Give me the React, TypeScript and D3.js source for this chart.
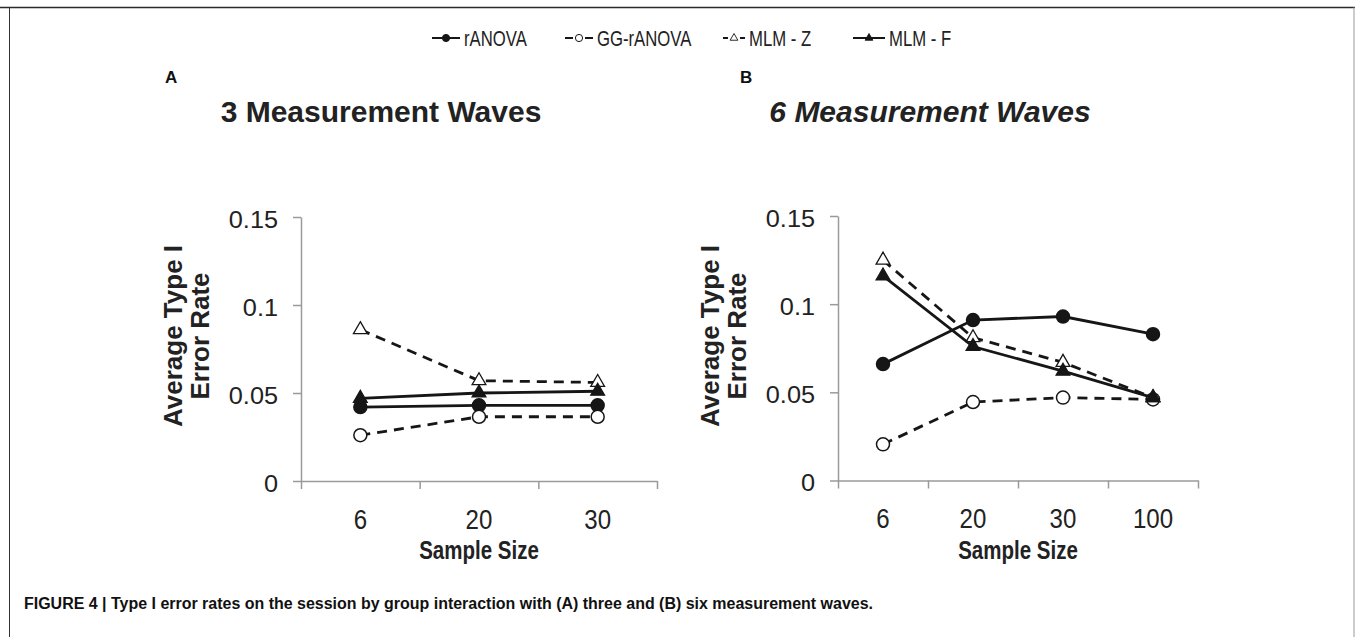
import React from "react";
import * as d3 from "d3";

// sample sizes (x categories)
const sampleSizesA = ["6", "20", "30"];
const sampleSizesB = ["6", "20", "30", "100"];

const seriesNames = ["rANOVA", "GG-rANOVA", "MLM - Z", "MLM - F"];

// panel A: 3 measurement waves
const rANOVA_A = [0.042, 0.043, 0.043];
const ggANOVA_A = [0.026, 0.0365, 0.0365];
const mlmZ_A = [0.086, 0.057, 0.056];
const mlmF_A = [0.047, 0.05, 0.051];

// panel B: 6 measurement waves
const rANOVA_B = [0.066, 0.091, 0.093, 0.083];
const ggANOVA_B = [0.0205, 0.0445, 0.047, 0.046];
const mlmZ_B = [0.125, 0.081, 0.067, 0.047];
const mlmF_B = [0.116, 0.076, 0.062, 0.047];

const yTicks = [0, 0.05, 0.1, 0.15];

const W = 1355;
const H = 637;
const INK = "#161616";
const AXIS = "#9a9a9a";
const SANS = "'Liberation Sans', Arial, Helvetica, sans-serif";

type Style = { dashed: boolean; marker: "circle" | "triangle"; filled: boolean };
const styles: Style[] = [
  { dashed: false, marker: "circle", filled: true },
  { dashed: true, marker: "circle", filled: false },
  { dashed: true, marker: "triangle", filled: false },
  { dashed: false, marker: "triangle", filled: true },
];

function drawMarker(g: any, st: Style, x: number, y: number, big: boolean) {
  if (st.marker === "circle") {
    g.append("circle")
      .attr("cx", x)
      .attr("cy", y)
      .attr("r", big ? 6.5 : 3.6)
      .attr("fill", st.filled ? INK : "#fff")
      .attr("stroke", INK)
      .attr("stroke-width", big ? 1.5 : 1);
  } else {
    g.append("path")
      .attr("d", d3.symbol(d3.symbolTriangle, big ? 82 : 26)())
      .attr("transform", `translate(${x},${y})`)
      .attr("fill", st.filled ? INK : "#fff")
      .attr("stroke", INK)
      .attr("stroke-width", big ? 1.3 : 0.9);
  }
}

function drawPanel(svg: any, o: {
  left: number; right: number; top: number; bottom: number;
  cats: string[]; series: number[][];
  title: string; italic: boolean; titleX: number;
  letter: string; letterX: number;
}) {
  const g = svg.append("g");
  const y = d3.scaleLinear().domain([0, 0.15]).range([o.bottom, o.top]);
  const xBand = d3.scaleBand<string>().domain(o.cats).range([o.left, o.right]).padding(0);
  const xEdge = d3.scaleLinear().domain([0, o.cats.length]).range([o.left, o.right]);

  // y axis
  const yAxis = g.append("g")
    .attr("transform", `translate(${o.left},0)`)
    .call(d3.axisLeft(y).tickValues(yTicks).tickSize(8).tickSizeOuter(0).tickFormat((d: any) => String(d)));
  yAxis.selectAll("path,line").attr("stroke", AXIS).attr("stroke-width", 1.5);
  yAxis.selectAll("text")
    .attr("font-family", SANS)
    .attr("font-size", 23)
    .attr("fill", "#222")
    .attr("x", -23 / 1.1)
    .attr("dy", "0.45em")
    .attr("transform", "scale(1.1,1)");

  // x axis line with ticks at category boundaries
  const xAxis = g.append("g")
    .attr("transform", `translate(0,${o.bottom})`)
    .call(d3.axisBottom(xEdge).tickValues(d3.range(o.cats.length + 1)).tickSize(8).tickSizeOuter(0).tickFormat(() => ""));
  xAxis.selectAll("path,line").attr("stroke", AXIS).attr("stroke-width", 1.5);

  const xLabels = g.append("g")
    .attr("transform", `translate(0,${o.bottom})`)
    .call(d3.axisBottom(xBand).tickSize(0).tickPadding(28));
  xLabels.select(".domain").remove();
  xLabels.selectAll("text")
    .attr("font-family", SANS)
    .attr("font-size", 28)
    .attr("fill", "#222")
    .attr("transform", "scale(0.86,1)");

  // axis titles
  const midX = (o.left + o.right) / 2;
  g.append("text")
    .attr("x", midX / 0.82)
    .attr("y", 559)
    .attr("transform", "scale(0.82,1)")
    .attr("text-anchor", "middle")
    .attr("font-family", SANS)
    .attr("font-weight", "bold")
    .attr("font-size", 25)
    .attr("fill", "#222")
    .text("Sample Size");

  const yLabel = ["Average Type I", "Error Rate"];
  yLabel.forEach((t, i) => {
    g.append("text")
      .attr("transform", `translate(${o.left - 119 + i * 27},336) rotate(-90)`)
      .attr("text-anchor", "middle")
      .attr("font-family", SANS)
      .attr("font-weight", "bold")
      .attr("font-size", 26)
      .attr("fill", "#222")
      .text(t);
  });

  // title and letter
  g.append("text")
    .attr("x", o.titleX)
    .attr("y", 122)
    .attr("text-anchor", "middle")
    .attr("font-family", SANS)
    .attr("font-weight", "bold")
    .attr("font-style", o.italic ? "italic" : "normal")
    .attr("font-size", 30)
    .attr("fill", "#222")
    .text(o.title);
  g.append("text")
    .attr("x", o.letterX)
    .attr("y", 83)
    .attr("font-family", SANS)
    .attr("font-weight", "bold")
    .attr("font-size", 17)
    .attr("fill", "#111")
    .text(o.letter);

  // series
  const cx = (c: string) => (xBand(c) as number) + xBand.bandwidth() / 2;
  o.series.forEach((vals, si) => {
    const st = styles[si];
    const pts: [number, number][] = vals.map((v, i) => [cx(o.cats[i]), y(v)]);
    g.append("path")
      .datum(pts)
      .attr("fill", "none")
      .attr("stroke", INK)
      .attr("stroke-width", 2.8)
      .attr("stroke-dasharray", st.dashed ? "10,7" : null)
      .attr("d", d3.line());
    pts.forEach(([px, py]) => drawMarker(g, st, px, py, true));
  });
}

class App extends React.Component {
  svgRef = React.createRef<SVGSVGElement>();

  componentDidMount() {
    this.draw();
  }

  draw() {
    const svg = d3.select(this.svgRef.current);
    svg.selectAll("*").remove();

    svg.append("rect").attr("width", W).attr("height", H).attr("fill", "#fff");

    // frame
    svg.append("line").attr("x1", 0).attr("x2", W).attr("y1", 7.5).attr("y2", 7.5).attr("stroke", "#2a2a2a").attr("stroke-width", 1.5);
    svg.append("line").attr("x1", 9.5).attr("x2", 9.5).attr("y1", 7.5).attr("y2", H).attr("stroke", "#333").attr("stroke-width", 1);
    svg.append("line").attr("x1", 1354).attr("x2", 1354).attr("y1", 7.5).attr("y2", H).attr("stroke", "#aaa").attr("stroke-width", 1.2);

    // legend
    const legendX = [432, 565, 723, 853];
    const legendLen = [28, 28, 22, 32];
    const squeeze = 0.76;
    const leg = svg.append("g");
    seriesNames.forEach((name, i) => {
      const st = styles[i];
      const x0 = legendX[i];
      const len = legendLen[i];
      const yy = 38;
      const xm = x0 + len / 2;
      if (st.dashed) {
        const d = (len - 10) / 2;
        leg.append("line").attr("x1", x0).attr("x2", x0 + d - 1).attr("y1", yy).attr("y2", yy).attr("stroke", INK).attr("stroke-width", 2);
        leg.append("line").attr("x1", x0 + len - d + 1).attr("x2", x0 + len).attr("y1", yy).attr("y2", yy).attr("stroke", INK).attr("stroke-width", 2);
      } else {
        leg.append("line").attr("x1", x0).attr("x2", x0 + len).attr("y1", yy).attr("y2", yy).attr("stroke", INK).attr("stroke-width", 2);
      }
      drawMarker(leg, st, xm, yy, false);
      leg.append("text")
        .attr("x", (x0 + len + 4) / squeeze)
        .attr("y", 46)
        .attr("transform", `scale(${squeeze},1)`)
        .attr("font-family", SANS)
        .attr("font-size", 22)
        .attr("fill", "#222")
        .text(name);
    });

    drawPanel(svg, {
      left: 301, right: 657, top: 217, bottom: 481,
      cats: sampleSizesA, series: [rANOVA_A, ggANOVA_A, mlmZ_A, mlmF_A],
      title: "3 Measurement Waves", italic: false, titleX: 381,
      letter: "A", letterX: 165,
    });
    drawPanel(svg, {
      left: 838, right: 1198, top: 216, bottom: 480.5,
      cats: sampleSizesB, series: [rANOVA_B, ggANOVA_B, mlmZ_B, mlmF_B],
      title: "6 Measurement Waves", italic: true, titleX: 930,
      letter: "B", letterX: 740,
    });

    // caption
    svg.append("text")
      .attr("x", 24)
      .attr("y", 609)
      .attr("font-family", SANS)
      .attr("font-weight", "bold")
      .attr("font-size", 16)
      .attr("fill", "#111")
      .attr("textLength", 849)
      .attr("lengthAdjust", "spacingAndGlyphs")
      .text("FIGURE 4 | Type I error rates on the session by group interaction with (A) three and (B) six measurement waves.");
  }

  render() {
    return (
      <svg
        ref={this.svgRef}
        width={W}
        height={H}
        style={{ position: "absolute", left: 0, top: 0, display: "block" }}
      />
    );
  }
}

export default App;
